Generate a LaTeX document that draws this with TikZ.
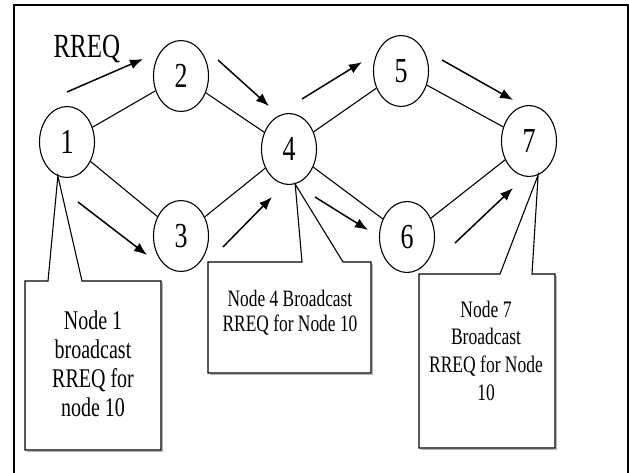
\documentclass[tikz,border=0pt]{standalone}
\usepackage{fontspec}
\setmainfont{Liberation Serif}
\usetikzlibrary{shapes.geometric,arrows.meta}
\newcommand\vst[1]{\scalebox{1}[1.35]{#1}}
\newcommand\vstack[1]{\scalebox{1}[1.35]{\begin{tabular}{@{}c@{}}#1\end{tabular}}}
\begin{document}
\begin{tikzpicture}[x=1pt,y=-1pt,>={Latex[length=13pt,width=10pt]},
    stn/.style={draw,ellipse,minimum width=55pt,minimum height=71pt,inner sep=0pt,line width=1.1pt,font=\fontsize{26}{30}\selectfont},
    msg/.style={->,line width=1.5pt},
    link/.style={line width=1.1pt},
    callout/.style={draw,line width=1.1pt,fill=white},
    note/.style={inner sep=0pt}]
    \useasboundingbox(0,0)rectangle(629,472);
    \draw[line width=2.5pt](14,5)rectangle(628,490);
    % stations
    \node[stn](n1)at(67,142){\vst{1}};
    \node[stn](n2)at(181,76){\vst{2}};
    \node[stn](n3)at(181,236){\vst{3}};
    \node[stn](n4)at(289,149){\vst{4}};
    \node[stn](n5)at(401,71){\vst{5}};
    \node[stn](n6)at(407,237){\vst{6}};
    \node[stn](n7)at(529,141){\vst{7}};
    \foreach \a/\b in{n1/n2,n2/n4,n1/n3,n3/n4,n4/n5,n5/n7,n4/n6,n6/n7}\draw[link](\a)--(\b);
    % RREQ messages
    \node[anchor=base west,font=\fontsize{25}{30}\selectfont](rreq)at(50,57){\vst{RREQ}};
    \foreach \i/\sx/\sy/\ex/\ey in{1/67/92/143/59,2/218/60/269/106,3/78/202/147/255,4/223/247/272/197,
        5/302/99/362/62,6/442/60/513/100,7/315/197/368/230,8/455/243/513/188}{
        \coordinate(m\i s)at(\sx,\sy);\coordinate(m\i e)at(\ex,\ey);
        \draw[msg](m\i s)--(m\i e);
    }
    % callouts
    \foreach \l/\t/\r/\b/\pa/\pb/\tip in{25/281/161/450/48/82/n1.255,208/262/371/373/302/343/n4.280,419/274/555/448/500/532/n7.285}{
        \draw[gray!60,line width=1.6pt](\r+1.5,\t+2)--(\r+1.5,\b+1.5)--(\l+2,\b+1.5);
        \draw[callout](\l,\t)--(\pa,\t)--(\tip)--(\pb,\t)--(\r,\t)--(\r,\b)--(\l,\b)--cycle;
    }
    \node[note,font=\fontsize{20}{21.5}\selectfont](c1)at(93,367){\vstack{Node 1\\broadcast\\RREQ for\\node 10}};
    \node[note,font=\fontsize{17.4}{18.5}\selectfont](c4)at(290,314){\vstack{Node 4 Broadcast\\RREQ for Node 10}};
    \node[note,font=\fontsize{17.5}{20.5}\selectfont](c7)at(486,353){\vstack{Node 7\\Broadcast\\RREQ for Node\\10}};
\end{tikzpicture}
\end{document}
